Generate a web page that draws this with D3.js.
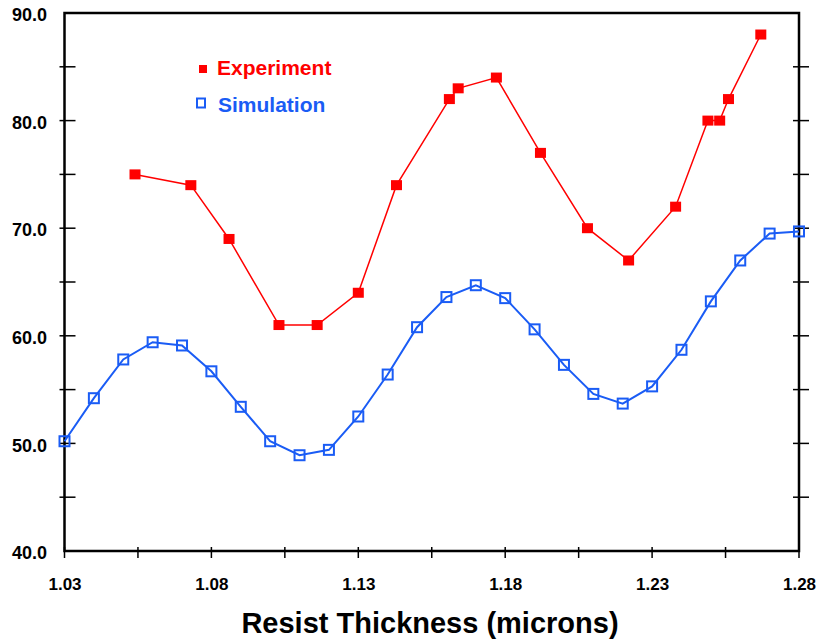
<!DOCTYPE html>
<html>
<head>
<meta charset="utf-8">
<script src="https://cdn.jsdelivr.net/npm/d3@7"></script>
<style>
  body { margin: 0; background: #fff; }
  svg { display: block; }
</style>
</head>
<body>
<div id="chart"></div>
<script>
// data
var expX = [1.054, 1.073, 1.086, 1.103, 1.116, 1.130, 1.143, 1.161, 1.164, 1.177,
            1.192, 1.208, 1.222, 1.238, 1.249, 1.253, 1.256, 1.267];
var expY = [75, 74, 69, 61, 61, 64, 74, 82, 83, 84, 77, 70, 67, 72, 80, 80, 82, 88];

var simX = [1.03, 1.04, 1.05, 1.06, 1.07, 1.08, 1.09, 1.10, 1.11, 1.12, 1.13, 1.14, 1.15,
            1.16, 1.17, 1.18, 1.19, 1.20, 1.21, 1.22, 1.23, 1.24, 1.25, 1.26, 1.27, 1.28];
var simY = [50.2, 54.2, 57.8, 59.4, 59.1, 56.7, 53.4, 50.2, 48.9, 49.4, 52.5, 56.4, 60.8,
            63.6, 64.7, 63.5, 60.6, 57.3, 54.6, 53.7, 55.3, 58.7, 63.2, 67.0, 69.5, 69.7];

var xTicks = [1.03, 1.055, 1.08, 1.105, 1.13, 1.155, 1.18, 1.205, 1.23, 1.255, 1.28];
var xLabels = [1.03, 1.08, 1.13, 1.18, 1.23, 1.28];
var yTicks = [40, 45, 50, 55, 60, 65, 70, 75, 80, 85, 90];
var yLabels = [40, 50, 60, 70, 80, 90];

var red = "#ff0000";
var blue = "#1a5cf5";

const W = 822, H = 642;
const plot = {left: 64.5, right: 799, top: 13, bottom: 551};

var svg = d3.select("#chart")
    .append("svg")
        .attr("width", W)
        .attr("height", H)
        .style("font-family", "'Liberation Sans', Arial, sans-serif");

var xScale = d3.scaleLinear()
    .domain([1.03, 1.28])
    .range([plot.left, plot.right]);
var yScale = d3.scaleLinear()
    .domain([40, 90])
    .range([plot.bottom, plot.top]);

// frame
svg.append("path")
    .attr("d", `M${plot.left},${plot.top}H${plot.right}V${plot.bottom}H${plot.left}Z`)
    .attr("fill", "none")
    .attr("stroke", "#000")
    .attr("stroke-width", 2.5);

// tick marks (crossing the axis lines)
svg.selectAll(".xtick")
    .data(xTicks)
    .enter().append("line")
        .attr("x1", d => xScale(d)).attr("x2", d => xScale(d))
        .attr("y1", plot.bottom - 4).attr("y2", plot.bottom + 7)
        .attr("stroke", "#000").attr("stroke-width", 1.5);

svg.selectAll(".yticksL")
    .data(yTicks.slice(1, -1))
    .enter().append("line")
        .attr("x1", plot.left - 5).attr("x2", plot.left + 11)
        .attr("y1", d => yScale(d)).attr("y2", d => yScale(d))
        .attr("stroke", "#000").attr("stroke-width", 1.5);

svg.selectAll(".yticksR")
    .data(yTicks.slice(1, -1))
    .enter().append("line")
        .attr("x1", plot.right - 6).attr("x2", plot.right + 10)
        .attr("y1", d => yScale(d)).attr("y2", d => yScale(d))
        .attr("stroke", "#000").attr("stroke-width", 1.5);

// axis labels through d3 axes, no lines
var xAxis = d3.axisBottom(xScale)
    .tickValues(xLabels)
    .tickSize(0)
    .tickPadding(0)
    .tickFormat(d3.format(".2f"));
svg.append("g")
    .attr("transform", `translate(0,${plot.bottom + 27})`)
    .call(xAxis)
    .call(g => g.select(".domain").remove())
    .selectAll("text")
        .attr("dy", "0.71em")
        .style("font-size", "17px")
        .style("font-weight", "bold")
        .style("fill", "#000");

var yAxis = d3.axisLeft(yScale)
    .tickValues(yLabels)
    .tickSize(0)
    .tickPadding(0)
    .tickFormat(d3.format(".1f"));
svg.append("g")
    .attr("transform", `translate(47,2)`)
    .call(yAxis)
    .call(g => g.select(".domain").remove())
    .selectAll("text")
        .style("font-size", "18px")
        .style("font-weight", "bold")
        .style("fill", "#000");

// x axis title
svg.append("text")
    .attr("x", 430)
    .attr("y", 633)
    .style("text-anchor", "middle")
    .style("font-size", "29px")
    .style("font-weight", "bold")
    .style("fill", "#000")
    .text("Resist Thickness (microns)");

var line = d3.line()
    .x(d => xScale(d[0]))
    .y(d => yScale(d[1]));

var simData = simX.map((x, i) => [x, simY[i]]);
var expData = expX.map((x, i) => [x, expY[i]]);

// simulation
svg.append("path")
    .datum(simData)
    .attr("d", line)
    .attr("fill", "none")
    .attr("stroke", blue)
    .attr("stroke-width", 2);

svg.selectAll(".sim")
    .data(simData)
    .enter().append("rect")
        .attr("class", "sim")
        .attr("x", d => xScale(d[0]) - 5)
        .attr("y", d => yScale(d[1]) - 5)
        .attr("width", 10)
        .attr("height", 10)
        .attr("fill", "none")
        .attr("stroke", blue)
        .attr("stroke-width", 2);

// experiment
svg.append("path")
    .datum(expData)
    .attr("d", line)
    .attr("fill", "none")
    .attr("stroke", red)
    .attr("stroke-width", 1.5);

svg.selectAll(".exp")
    .data(expData)
    .enter().append("rect")
        .attr("class", "exp")
        .attr("x", d => xScale(d[0]) - 5.5)
        .attr("y", d => yScale(d[1]) - 5)
        .attr("width", 11)
        .attr("height", 10)
        .attr("fill", red);

// legend
svg.append("rect")
    .attr("x", 199).attr("y", 65).attr("width", 8).attr("height", 8)
    .attr("fill", red);
svg.append("text")
    .attr("x", 217).attr("y", 75)
    .style("font-size", "21px").style("font-weight", "bold")
    .style("fill", red)
    .text("Experiment");

svg.append("rect")
    .attr("x", 197).attr("y", 98.5).attr("width", 8).attr("height", 9)
    .attr("fill", "none").attr("stroke", blue).attr("stroke-width", 2);
svg.append("text")
    .attr("x", 218).attr("y", 112)
    .style("font-size", "21px").style("font-weight", "bold")
    .style("fill", blue)
    .text("Simulation");
</script>
</body>
</html>
